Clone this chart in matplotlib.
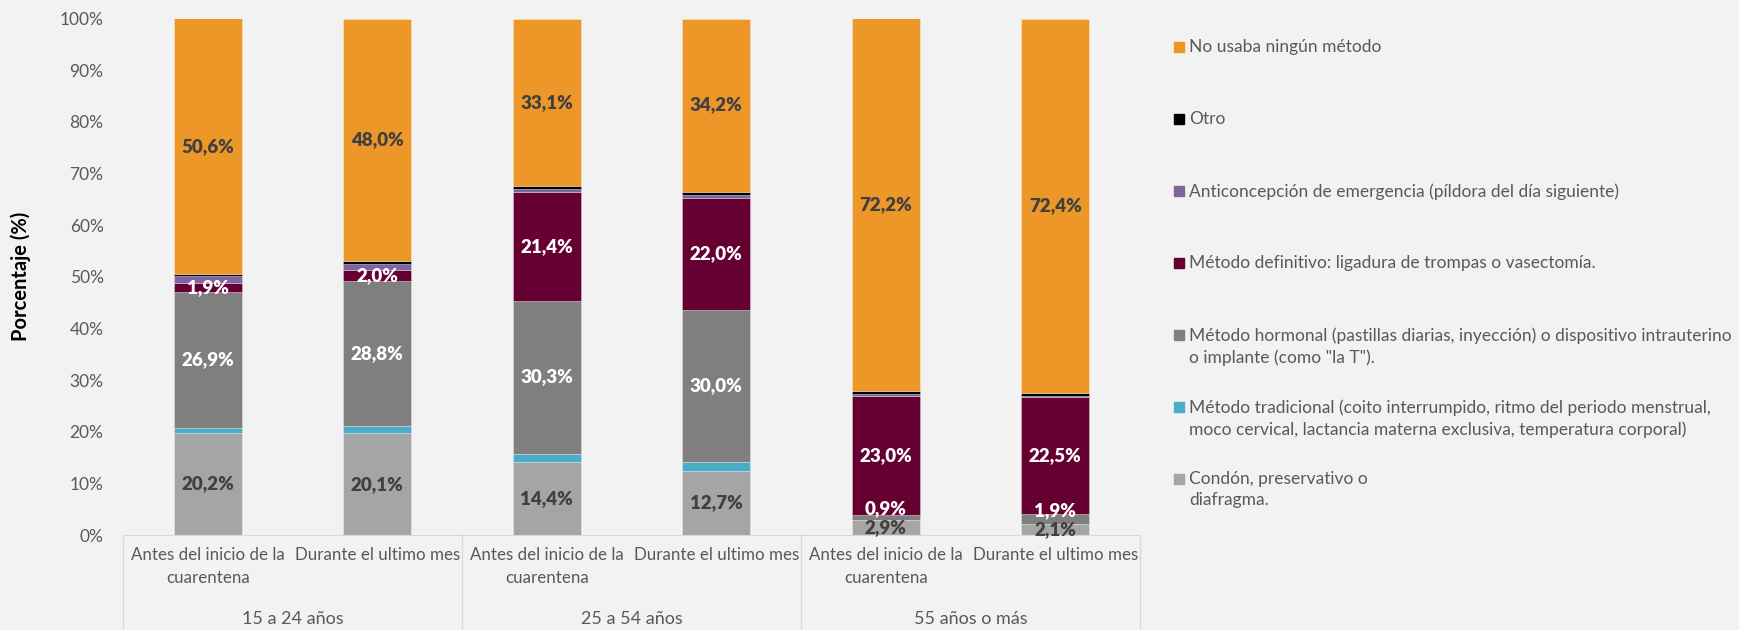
import matplotlib.pyplot as plt
import numpy as np
from matplotlib.patches import Rectangle
from matplotlib.ticker import PercentFormatter

plt.rcParams['font.family'] = ['Lato', 'DejaVu Sans']

# Categories: period within each age group
periodos = ['Antes del inicio de la\ncuarentena', 'Durante el ultimo mes'] * 3
grupos = ['15 a 24 años', '25 a 54 años', '55 años o más']

# Share of each method (%), bottom of the stack first
condon = [20.2, 20.1, 14.4, 12.7, 2.9, 2.1]
tradicional = [1.0, 1.4, 1.7, 1.8, 0.1, 0.1]
hormonal = [26.9, 28.8, 30.3, 30.0, 0.9, 1.9]
definitivo = [1.9, 2.0, 21.4, 22.0, 23.0, 22.5]
emergencia = [1.2, 1.2, 0.7, 0.7, 0.4, 0.3]
otro = [0.5, 0.6, 0.6, 0.6, 0.6, 0.6]
ninguno = [50.6, 48.0, 33.1, 34.2, 72.2, 72.4]

series = [
    ('Condón, preservativo o\ndiafragma.', condon, '#A5A5A5', '#404040'),
    ('Método tradicional (coito interrumpido, ritmo del periodo menstrual,\n'
     'moco cervical, lactancia materna exclusiva, temperatura corporal)',
     tradicional, '#4BACC6', None),
    ('Método hormonal (pastillas diarias, inyección) o dispositivo intrauterino\n'
     'o implante (como "la T").', hormonal, '#7F7F7F', 'white'),
    ('Método definitivo: ligadura de trompas o vasectomía.', definitivo, '#660033', 'white'),
    ('Anticoncepción de emergencia (píldora del día siguiente)', emergencia, '#8064A2', None),
    ('Otro', otro, '#000000', None),
    ('No usaba ningún método', ninguno, '#EE9729', '#404040'),
]

bg = '#F2F2F2'
txt = '#595959'

fig = plt.figure(figsize=(17.39, 6.30), dpi=100, facecolor=bg)
ax = fig.add_axes([123 / 1739, 95 / 630, 1017 / 1739, 516.5 / 630])
ax.set_facecolor(bg)

x = np.arange(len(periodos))
totals = np.sum([s[1] for s in series], axis=0)
bottom = np.zeros(len(x))
last_label = np.full(len(x), -10.0)
for name, vals, color, lab_color in series:
    vals = np.array(vals)
    h = vals / totals * 100  # 100% stacked
    ax.bar(x, h, 0.4, bottom=bottom, color=color, edgecolor=(1, 1, 1, 0.35),
           linewidth=0.6)
    if lab_color:
        for i, (xi, b, hi, v) in enumerate(zip(x, bottom, h, vals)):
            # keep labels of thin segments from sitting on the one below
            y = max(b + hi / 2, last_label[i] + 3.6)
            last_label[i] = y
            ax.text(xi, y, f'{v:.1f}'.replace('.', ',') + '%',
                    ha='center', va='center', color=lab_color,
                    fontsize=13.5, fontweight='heavy')
    bottom += h

ax.set_xlim(-0.5, len(x) - 0.5)
ax.set_ylim(0, 100)
ax.yaxis.set_major_locator(plt.MultipleLocator(10))
ax.yaxis.set_major_formatter(PercentFormatter(decimals=0))
ax.tick_params(axis='y', length=0, pad=14, labelsize=12.5, labelcolor=txt)
ax.set_ylabel('Porcentaje (%)', fontsize=14.5, fontweight='bold', color='black')
ax.yaxis.set_label_coords(-0.090, 0.5)

ax.set_xticks(x)
ax.set_xticklabels(periodos, fontsize=12.2, color=txt, multialignment='center',
                   linespacing=1.5)
ax.tick_params(axis='x', length=0, pad=9)

for side in ['top', 'right', 'left']:
    ax.spines[side].set_visible(False)
ax.spines['bottom'].set_color('#D9D9D9')

# multi-level category axis: separators and age group labels
ybot = -95 / 516.5
for k in range(len(grupos) + 1):
    ax.plot([k * 2 - 0.5] * 2, [0, ybot], transform=ax.get_xaxis_transform(),
            color='#D9D9D9', lw=1, clip_on=False)
for k, g in enumerate(grupos):
    ax.text(k * 2 + 0.5, -84 / 516.5, g, transform=ax.get_xaxis_transform(),
            ha='center', va='center', fontsize=13, color=txt)

# legend, top entry first
for i, (name, vals, color, lab_color) in enumerate(reversed(series)):
    yc = 630 - (47 + 72 * i)
    fig.patches.append(Rectangle((1174 / 1739, (yc - 5) / 630), 10 / 1739, 10 / 630,
                                 transform=fig.transFigure, color=color))
    fig.text(1189 / 1739, (yc + 8) / 630, name, ha='left', va='top',
             fontsize=12.5, color=txt, linespacing=1.4)

fig.savefig('out.png', dpi=100, facecolor=bg)
